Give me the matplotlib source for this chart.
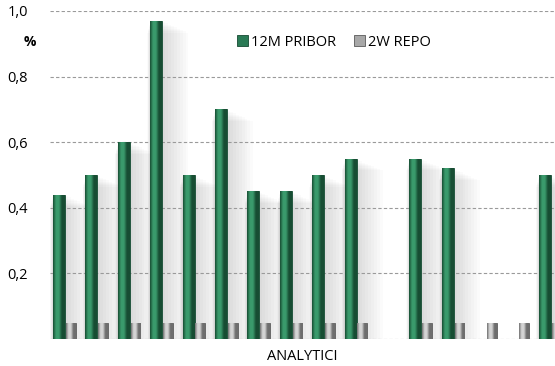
import matplotlib.pyplot as plt
import matplotlib.colors as mcolors
import numpy as np

# analyst forecasts (%), NaN where no forecast was given
pribor_12m = [0.44, 0.50, 0.60, 0.97, 0.50, 0.70, 0.45, 0.45, 0.50, 0.55,
              np.nan, 0.55, 0.52, np.nan, np.nan, 0.50]
repo_2w = [0.05, 0.05, 0.05, 0.05, 0.05, 0.05, 0.05, 0.05, 0.05, 0.05,
           np.nan, 0.05, 0.05, 0.05, 0.05, 0.05]
yticks = [0.2, 0.4, 0.6, 0.8, 1.0]
ytick_labels = ["0,2", "0,4", "0,6", "0,8", "1,0"]

plt.rcParams['font.family'] = ['Open Sans', 'DejaVu Sans']

x = np.arange(len(pribor_12m))
fig = plt.figure(figsize=(5.55, 3.66), dpi=100)
ax = fig.add_axes([0.0901, 0.0738, 0.9099, 0.8962])


def shade(bars, dark, light, ax):
    # horizontal cylinder-like gradient inside each bar
    cmap = mcolors.LinearSegmentedColormap.from_list("c", [dark, light, light, dark, dark])
    grad = np.linspace(0, 1, 64).reshape(1, -1)
    for b in bars:
        h = b.get_height()
        if not np.isfinite(h) or h <= 0:
            continue
        x0, w = b.get_x(), b.get_width()
        im = ax.imshow(grad, cmap=cmap, aspect='auto', extent=[x0, x0 + w, 0, h],
                       zorder=b.get_zorder(), interpolation='bilinear')
        im.set_clip_path(b)


# soft shadows around the green bars
for xi, v in zip(x, pribor_12m):
    if np.isnan(v):
        continue
    for k in range(10):
        ax.bar(xi - 0.17 + 0.04 * k, v - 0.004 * k, width=0.37 + 0.10 * k,
               color='black', alpha=0.016, linewidth=0, zorder=1)

ax.grid(axis='y', linestyle=(0, (3, 2)), color='#9a9a9a', linewidth=0.8, zorder=2)
ax.axhline(0, linestyle=(0, (3, 2)), color='#9a9a9a', linewidth=0.8, zorder=2)

g = ax.bar(x - 0.17, pribor_12m, width=0.37, color='#2a7a55', edgecolor='#164a32',
           linewidth=0.6, label='12M PRIBOR', zorder=3)
r = ax.bar(x + 0.19, repo_2w, width=0.30, color='#a8a8a8', edgecolor='#5a5a5a',
           linewidth=0.6, label='2W REPO', zorder=3)
shade(g, '#174d33', '#3a9a6c', ax)
shade(r, '#6e6e6e', '#d4d4d4', ax)

ax.set_xlim(-0.45, 15.14)
ax.set_ylim(0, 1.0)
ax.set_yticks(yticks)
ax.set_yticklabels(ytick_labels)
ax.set_xticks([])
ax.tick_params(axis='y', length=0, labelsize=10.5, pad=16)
for s in ax.spines.values():
    s.set_visible(False)

fig.text(30 / 555, 1 - 42 / 366, '%', fontsize=10, fontweight='bold',
         ha='center', va='center')
fig.text(302 / 555, 1 - 357 / 366, 'ANALYTICI', fontsize=10.5, ha='center', va='center')

fig.legend(handles=[g, r], loc='center', bbox_to_anchor=(334 / 555, 1 - 42 / 366),
           ncol=2, frameon=False, fontsize=10.5, handlelength=0.75, handleheight=0.8,
           handletextpad=0.2, columnspacing=1.2)

fig.savefig('out.png', dpi=100)
